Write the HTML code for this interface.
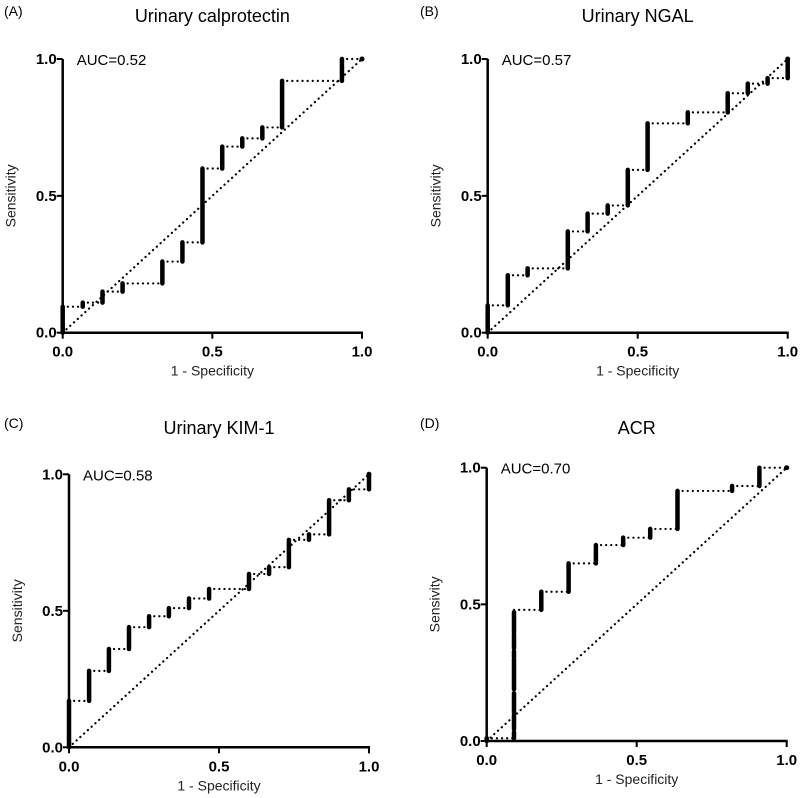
<!DOCTYPE html>
<html><head><meta charset="utf-8"><style>
body{margin:0;background:#fff;}
svg{display:block;font-family:"Liberation Sans",Arial,sans-serif;}
</style></head><body>
<svg id="fig" width="800" height="798" viewBox="0 0 800 798" xmlns="http://www.w3.org/2000/svg"></svg>
<script>
// ---- data ----
const ticks = [0, 0.5, 1.0];
const tickLabels = ["0.0", "0.5", "1.0"];
const titles = ["Urinary calprotectin", "Urinary NGAL", "Urinary KIM-1", "ACR"];
const panelLetters = ["(A)", "(B)", "(C)", "(D)"];
const aucLabels = ["AUC=0.52", "AUC=0.57", "AUC=0.58", "AUC=0.70"];
const yTitles = ["Sensitivity", "Sensitivity", "Sensitivity", "Sensivity"];

const fprA = [0,0,0.067,0.067,0.133,0.133,0.2,0.2,0.333,0.333,0.4,0.4,0.467,0.467,0.533,0.533,0.6,0.6,0.667,0.667,0.733,0.733,0.933,0.933,1];
const tprA = [0,0.095,0.095,0.11,0.11,0.15,0.15,0.18,0.18,0.26,0.26,0.33,0.33,0.6,0.6,0.68,0.68,0.71,0.71,0.75,0.75,0.92,0.92,1,1];
const fprB = [0,0,0.067,0.067,0.133,0.133,0.267,0.267,0.333,0.333,0.4,0.4,0.467,0.467,0.533,0.533,0.667,0.667,0.8,0.8,0.867,0.867,0.933,0.933,1,1];
const tprB = [0,0.1,0.1,0.21,0.21,0.235,0.235,0.37,0.37,0.435,0.435,0.465,0.465,0.595,0.595,0.765,0.765,0.805,0.805,0.875,0.875,0.91,0.91,0.93,0.93,1];
const fprC = [0,0,0.067,0.067,0.133,0.133,0.2,0.2,0.267,0.267,0.333,0.333,0.4,0.4,0.467,0.467,0.6,0.6,0.667,0.667,0.733,0.733,0.8,0.8,0.867,0.867,0.933,0.933,1,1];
const tprC = [0,0.17,0.17,0.28,0.28,0.36,0.36,0.44,0.44,0.48,0.48,0.51,0.51,0.545,0.545,0.58,0.58,0.635,0.635,0.66,0.66,0.76,0.76,0.78,0.78,0.905,0.905,0.945,0.945,1];
const fprD = [0,0,0.091,0.091,0.182,0.182,0.273,0.273,0.364,0.364,0.455,0.455,0.545,0.545,0.636,0.636,0.818,0.818,0.909,0.909,1];
const tprD = [0,0.01,0.01,0.48,0.48,0.546,0.546,0.65,0.65,0.717,0.717,0.744,0.744,0.776,0.776,0.915,0.915,0.933,0.933,1,1];
const fprSeries = [fprA, fprB, fprC, fprD];
const tprSeries = [tprA, tprB, tprC, tprD];

// ---- layout (pixel geometry) ----
const panels = [
  {x0:62.7, x1:362, y0:332.7, y1:59, letterX:4, letterY:16, titleY:22},
  {x0:487.7, x1:787.7, y0:332.7, y1:59, letterX:420, letterY:16, titleY:22},
  {x0:69, x1:369, y0:747.3, y1:474.3, letterX:4, letterY:428, titleY:434},
  {x0:486.7, x1:786.7, y0:741, y1:467.7, letterX:420, letterY:428, titleY:434}
];
const NS = "http://www.w3.org/2000/svg";
const svg = document.getElementById("fig");
function mk(tag, attrs, parent, text){
  const e = document.createElementNS(NS, tag);
  for (const k in attrs) e.setAttribute(k, attrs[k]);
  if (text !== undefined) e.textContent = text;
  parent.appendChild(e);
  return e;
}

panels.forEach((p, i) => {
  const sx = v => p.x0 + v * (p.x1 - p.x0);
  const sy = v => p.y0 - v * (p.y0 - p.y1);
  const g = mk("g", {}, svg);
  
  
  const cx = (p.x0 + p.x1) / 2;

  const lt = mk("text", {x:p.letterX, y:p.letterY, "font-size":14}, g, panelLetters[i]);
  
  
  const tt = mk("text", {x:cx, y:p.titleY, "font-size":18, "text-anchor":"middle"}, g, titles[i]);
  
  

  const dotted = {stroke:"#000", "stroke-width":2.2, "stroke-dasharray":"0.1 5", "stroke-linecap":"round"};
  const diag = mk("line", Object.assign({x1:sx(0), y1:sy(0), x2:sx(1), y2:sy(1)}, dotted), g);
  
  

  const fx = fprSeries[i], ty = tprSeries[i];
  for (let k = 1; k < fx.length; k++) {
    const vertical = fx[k] === fx[k-1];
    let attrs = {x1:sx(fx[k-1]), y1:sy(ty[k-1]), x2:sx(fx[k]), y2:sy(ty[k])};
    if (vertical) {
      attrs = Object.assign(attrs, {stroke:"#000", "stroke-width":4.5, "stroke-linecap":"round"});
      if (i === 3 && k === 3) attrs["stroke-dasharray"] = "6 3 14 2 20 4 30 2";
    } else {
      attrs = Object.assign(attrs, dotted);
    }
    const seg = mk("line", attrs, g);
    
    
  }
  const endDot = mk("circle", {cx:sx(fx[fx.length-1]), cy:sy(ty[ty.length-1]), r:2.5, fill:"#000"}, g);
  
  

  const ya = mk("line", {x1:p.x0, y1:p.y1, x2:p.x0, y2:p.y0+1, stroke:"#000", "stroke-width":2.5}, g);
  
  
  const xa = mk("line", {x1:p.x0-1, y1:p.y0, x2:p.x1+1, y2:p.y0, stroke:"#000", "stroke-width":2.5}, g);
  
  

  ticks.forEach((t, j) => {
    const tx = mk("line", {x1:sx(t), y1:p.y0, x2:sx(t), y2:p.y0+6, stroke:"#000", "stroke-width":2}, g);
    
    
    const tl = mk("text", {x:sx(t), y:p.y0+24, "font-size":15, "font-weight":"bold", "text-anchor":"middle"}, g, tickLabels[j]);
    
    
    const tyl = mk("line", {x1:p.x0-6, y1:sy(t), x2:p.x0, y2:sy(t), stroke:"#000", "stroke-width":2}, g);
    
    
    const yl = mk("text", {x:p.x0-6, y:sy(t)+5, "font-size":15, "font-weight":"bold", "text-anchor":"end"}, g, tickLabels[j]);
    
    
  });

  const xt = mk("text", {x:cx, y:p.y0+43, "font-size":14, "text-anchor":"middle", fill:"#222"}, g, "1 - Specificity");
  
  
  const ymid = (p.y0 + p.y1) / 2;
  const yt = mk("text", {x:p.x0-47, y:ymid, "font-size":14, "text-anchor":"middle", fill:"#222", transform:`rotate(-90 ${p.x0-47} ${ymid})`}, g, yTitles[i]);
  
  
  const auc = mk("text", {x:p.x0+14, y:p.y1+6, "font-size":15}, g, aucLabels[i]);
  
  
});
</script>
</body></html>
